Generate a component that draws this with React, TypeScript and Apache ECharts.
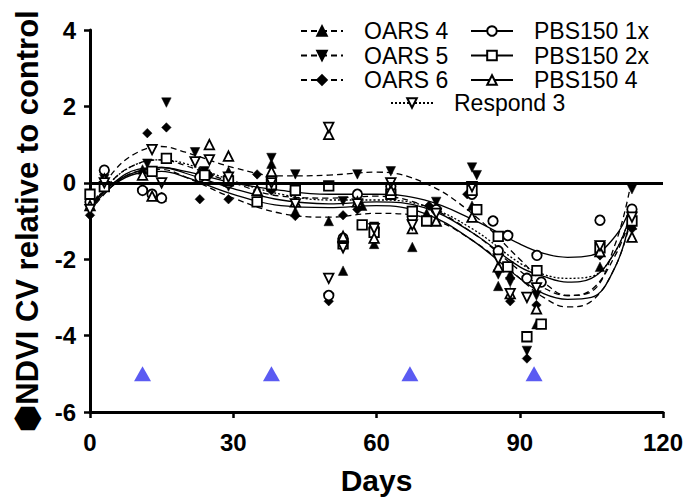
import React, { useEffect, useRef } from "react";
import * as echarts from "echarts";

// ---- data ----
const fitDays = [0, 5, 10, 15, 20, 30, 40, 50, 60, 70, 80, 90, 95, 100, 105, 110, 113];
const fitOARS4 = [-0.75, 0.1, 0.5, 0.6, 0.45, 0.0, -0.35, -0.4, -0.35, -0.6, -1.3, -2.3, -2.75, -2.95, -2.8, -1.9, -1.0];
const fitOARS5 = [-0.7, 0.3, 0.8, 0.95, 0.8, 0.4, 0.18, 0.2, 0.28, 0.0, -0.8, -2.0, -2.6, -2.95, -2.85, -1.6, -0.2];
const fitOARS6 = [-0.75, -0.05, 0.3, 0.35, 0.15, -0.4, -0.8, -0.9, -0.8, -0.9, -1.5, -2.5, -3.0, -3.25, -3.1, -2.2, -1.1];
const fitPBS1x = [-0.6, 0.0, 0.3, 0.4, 0.3, 0.0, -0.2, -0.3, -0.3, -0.45, -0.95, -1.6, -1.85, -1.95, -1.9, -1.4, -0.7];
const fitPBS2x = [-0.65, 0.0, 0.35, 0.4, 0.25, -0.15, -0.45, -0.55, -0.5, -0.65, -1.3, -2.2, -2.45, -2.6, -2.5, -1.8, -0.9];
const fitPBS4 = [-0.7, -0.05, 0.25, 0.3, 0.15, -0.3, -0.6, -0.65, -0.6, -0.8, -1.5, -2.5, -2.9, -3.05, -3.0, -2.2, -1.0];
const fitResp3 = [-0.65, 0.1, 0.5, 0.6, 0.5, 0.05, -0.3, -0.45, -0.45, -0.6, -1.2, -2.1, -2.4, -2.5, -2.45, -1.8, -0.9];

const ptsOARS4 = [[0,-0.6],[3,0.0],[11,0.35],[15,-0.37],[23,0.3],[29,0.3],[35,-0.17],[38,0.5],[43,-0.75],[50,-1.0],[53,-2.3],[57,-0.6],[59.5,-1.6],[67.5,-1.68],[70.5,-0.8],[80,-0.6],[85.5,-2.7],[88,-2.4],[93.5,-3.7],[106.8,-2.2],[113.5,-1.1]];
const ptsOARS5 = [[0,-0.4],[3,0.1],[12,0.5],[16,2.1],[22,0.8],[24,0.3],[29,-0.1],[38,0.65],[43,0.22],[53,-0.48],[56,0.22],[59.5,-1.15],[63,0.3],[67.5,-0.8],[72.5,-0.5],[80,0.4],[81,0.2],[85.5,-2.4],[88,-2.6],[91.5,-4.4],[93.5,-2.95],[106.8,-1.65],[113.5,-0.17]];
const ptsOARS6 = [[0,-0.85],[3,-0.1],[12,1.3],[16,1.45],[23,-0.43],[25,0.2],[29,-0.43],[35,0.22],[38,-0.2],[43,-0.87],[50,-3.1],[53,-0.85],[56,-0.7],[59.5,-1.3],[67.5,-1.0],[71,-0.6],[79,-0.3],[85.5,-2.3],[88,-3.1],[91.5,-4.6],[93.5,-3.2],[106.8,-1.9],[113.5,-1.2]];
const ptsPBS1x = [[0,-0.5],[3,0.33],[11,-0.2],[13,-0.3],[15,-0.4],[23,0.15],[29,0.0],[38,0.1],[43,-0.2],[50,-2.95],[53,-1.45],[56,-0.3],[59.5,-1.2],[63,-0.1],[67.5,-0.9],[72.5,-0.7],[80,-0.3],[84.4,-1.0],[85.5,-1.78],[87.5,-1.38],[91.5,-2.5],[93.6,-1.9],[94.5,-2.6],[106.8,-0.98],[113.5,-0.69]];
const ptsPBS2x = [[0,-0.3],[3,-0.1],[13,0.3],[16,0.64],[24,0.2],[29,0.05],[35,-0.5],[38,-0.05],[43,-0.2],[50,-0.08],[53,-1.6],[57,-1.1],[59.5,-1.3],[63,-0.3],[67.5,-0.75],[70.5,-1.0],[80,-0.2],[81,-0.7],[85.5,-1.4],[87.5,-2.2],[91.5,-4.03],[93.6,-2.3],[94.5,-3.7],[106.8,-1.7],[113.5,-1.0]];
const ptsPBS4 = [[0,-0.6],[3,0.1],[11,0.2],[13,-0.35],[25,1.0],[29,0.7],[35,-0.2],[38,0.3],[43,-0.5],[50,1.27],[53,-1.4],[56,-0.5],[59.5,-1.45],[63,-0.2],[67.5,-1.2],[72.5,-1.0],[80,-0.9],[85.5,-2.2],[88,-2.9],[93.5,-3.3],[106.8,-1.8],[113.5,-1.42]];
const ptsResp3 = [[0,-0.7],[3,0.0],[13,0.87],[15,0.0],[22,0.55],[25,0.6],[29,0.15],[38,0.0],[43,-0.55],[50,1.45],[50,-2.5],[53,-1.7],[56,-0.55],[59.5,-1.2],[63,0.0],[67.5,-1.1],[72.5,-0.8],[80,-0.1],[85.5,-2.0],[88,-2.9],[91.5,-3.0],[93.5,-2.75],[106.8,-1.65],[113.5,-0.9]];

const applicationDays = [11, 38, 67, 93];
const applicationLevel = -5;

const xTicks = [0, 30, 60, 90, 120];
const yTicks = [-6, -4, -2, 0, 2, 4];

const FONT = "Liberation Sans, Arial, sans-serif";

type Spec = {
  name: string;
  fit: number[];
  pts: number[][];
  symbol: string;
  rotate: number;
  filled: boolean;
  dash: any;
};

const specs: Spec[] = [
  { name: "OARS 4", fit: fitOARS4, pts: ptsOARS4, symbol: "triangle", rotate: 0, filled: true, dash: [6, 4] },
  { name: "OARS 5", fit: fitOARS5, pts: ptsOARS5, symbol: "triangle", rotate: 180, filled: true, dash: [6, 4] },
  { name: "OARS 6", fit: fitOARS6, pts: ptsOARS6, symbol: "diamond", rotate: 0, filled: true, dash: [6, 4] },
  { name: "PBS150 1x", fit: fitPBS1x, pts: ptsPBS1x, symbol: "circle", rotate: 0, filled: false, dash: "solid" },
  { name: "PBS150 2x", fit: fitPBS2x, pts: ptsPBS2x, symbol: "rect", rotate: 0, filled: false, dash: "solid" },
  { name: "PBS150 4", fit: fitPBS4, pts: ptsPBS4, symbol: "triangle", rotate: 0, filled: false, dash: "solid" },
  { name: "Respond 3", fit: fitResp3, pts: ptsResp3, symbol: "triangle", rotate: 180, filled: false, dash: [2, 2] },
];

export default function App() {
  const ref = useRef<HTMLDivElement>(null);
  useEffect(() => {
    if (!ref.current) return;
    const chart = echarts.init(ref.current, undefined, { renderer: "svg" });

    const itemStyleFor = (s: Spec) =>
      s.filled
        ? { color: "#000", borderColor: "#000", borderWidth: 0.5, opacity: 1 }
        : { color: "#fff", borderColor: "#000", borderWidth: 1.8, opacity: 1 };

    const lineSeries = specs.map((s) => ({
      name: s.name,
      type: "line",
      data: fitDays.map((d, i) => [d, s.fit[i]]),
      smooth: 0.4,
      showSymbol: false,
      symbol: s.symbol,
      symbolRotate: s.rotate,
      symbolSize: 9,
      itemStyle: itemStyleFor(s),
      lineStyle: { color: "#000", width: 1.3, type: s.dash },
      z: 3,
      silent: true,
    }));

    const scatterSeries = specs.map((s) => ({
      name: s.name,
      type: "scatter",
      data: s.pts,
      symbol: s.symbol,
      symbolRotate: s.rotate,
      symbolSize: 9.5,
      itemStyle: itemStyleFor(s),
      z: 4,
    }));

    const legendText = {
      fontSize: 23,
      lineHeight: 24,
      fontFamily: FONT,
      color: "#000",
      padding: [0, 0, 0, 16],
    };
    const legendCommon = {
      orient: "vertical",
      itemWidth: 42,
      itemHeight: 12,
      itemGap: 0.5,
      padding: 0,
      textStyle: legendText,
      selectedMode: false,
    };

    chart.setOption({
      animation: false,
      backgroundColor: "#fff",
      grid: { left: 90, right: 28, top: 30, bottom: 86 },
      legend: [
        { ...legendCommon, data: specs.slice(0, 3).map((s) => s.name), left: 300, top: 19 },
        { ...legendCommon, data: specs.slice(3, 6).map((s) => s.name), left: 470, top: 19 },
        { ...legendCommon, data: [specs[6].name], left: 390, top: 91 },
      ],
      xAxis: {
        type: "value",
        min: xTicks[0],
        max: xTicks[xTicks.length - 1],
        interval: 30,
        name: "Days",
        nameLocation: "middle",
        nameGap: 53,
        nameTextStyle: { fontSize: 30, fontWeight: "bold", fontFamily: FONT, color: "#000" },
        axisLine: { onZero: false, lineStyle: { color: "#000", width: 3 } },
        axisTick: { length: 6, lineStyle: { width: 2.5, color: "#000" } },
        axisLabel: { fontSize: 24, fontWeight: "bold", fontFamily: FONT, color: "#000", margin: 18 },
        splitLine: { show: false },
      },
      yAxis: {
        type: "value",
        min: yTicks[0],
        max: yTicks[yTicks.length - 1],
        interval: 2,
        name: "⬢NDVI CV relative to control",
        nameLocation: "middle",
        nameGap: 47,
        nameTextStyle: { fontSize: 31, fontWeight: "bold", fontFamily: FONT, color: "#000" },
        axisLine: { onZero: false, lineStyle: { color: "#000", width: 3 } },
        axisTick: { length: 6, lineStyle: { width: 2.5, color: "#000" } },
        axisLabel: { fontSize: 24, fontWeight: "bold", fontFamily: FONT, color: "#000", margin: 14 },
        splitLine: { show: false },
      },
      series: [
        ...lineSeries,
        ...scatterSeries,
        {
          name: "zero",
          type: "line",
          data: [],
          silent: true,
          markLine: {
            silent: true,
            symbol: "none",
            label: { show: false },
            lineStyle: { color: "#000", width: 3, type: "solid" },
            data: [{ yAxis: 0 }],
          },
        },
        {
          name: "applications",
          type: "scatter",
          data: applicationDays.map((d) => [d, applicationLevel]),
          symbol: "triangle",
          symbolSize: [17, 15],
          itemStyle: { color: "#5b5bf2", opacity: 1 },
          z: 5,
        },
      ],
    });
    return () => chart.dispose();
  }, []);
  return <div ref={ref} style={{ width: 691, height: 500, position: "absolute", left: 0, top: 0 }} />;
}
